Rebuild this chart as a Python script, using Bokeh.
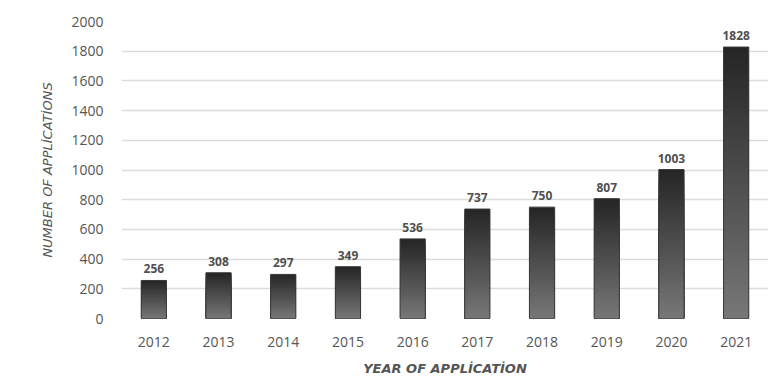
from bokeh.plotting import figure
from bokeh.models import ColumnDataSource, FactorRange, Range1d
from bokeh.core.properties import value
from bokeh.embed import file_html
from bokeh.resources import INLINE

years = ["2012", "2013", "2014", "2015", "2016", "2017", "2018", "2019", "2020", "2021"]
applications = [256, 308, 297, 349, 536, 737, 750, 807, 1003, 1828]
y_ticks = [0, 200, 400, 600, 800, 1000, 1200, 1400, 1600, 1800, 2000]

FONT = "Open Sans"

p = figure(width=772, height=380, x_range=FactorRange(*years), y_range=Range1d(0, 2000),
           output_backend="svg", toolbar_location=None,
           min_border_left=121, min_border_right=4, min_border_top=21, min_border_bottom=62)
p.outline_line_color = None
p.background_fill_color = "white"
p.border_fill_color = "white"

# gradient bars: overlapping layers from full height (darkest) to short (lightest)
N = 40
top_rgb = (38, 38, 38)
bot_rgb = (118, 118, 118)
xs, tops, cols = [], [], []
for i in range(N):
    f = i / (N - 1)
    r = [int(round(t + (b - t) * f)) for t, b in zip(top_rgb, bot_rgb)]
    c = "#%02x%02x%02x" % tuple(r)
    for yr, v in zip(years, applications):
        xs.append(yr)
        tops.append(v * (N - i) / N)
        cols.append(c)
seg = ColumnDataSource(dict(x=xs, top=tops, color=cols))
p.vbar(x="x", bottom=0, top="top", width=0.39, fill_color="color", line_color=None, source=seg)

src = ColumnDataSource(dict(x=years, y=applications, label=[str(v) for v in applications]))
p.vbar(x="x", top="y", width=0.39, fill_color=None, line_color="#3a3a3a", line_width=1, source=src)
p.text(x="x", y="y", text="label", source=src, text_align="center", text_baseline="bottom",
       y_offset=-7, text_font=value(FONT), text_font_size="12px", text_font_style="bold",
       text_color="#505050")

# axes
p.yaxis.ticker = y_ticks
p.yaxis.axis_line_color = None
p.yaxis.major_tick_line_color = None
p.yaxis.minor_tick_line_color = None
p.yaxis.major_label_standoff = 12
p.yaxis.major_label_text_font = FONT
p.yaxis.major_label_text_font_size = "14px"
p.yaxis.major_label_text_color = "#555555"
p.yaxis.axis_label = "NUMBER OF APPLİCATİONS"
p.yaxis.axis_label_text_font = "DejaVu Sans"
p.yaxis.axis_label_text_font_size = "13px"
p.yaxis.axis_label_text_font_style = "italic"
p.yaxis.axis_label_text_color = "#555555"
p.yaxis.axis_label_standoff = 13

p.xaxis.axis_line_color = None
p.xaxis.major_tick_line_color = None
p.xaxis.minor_tick_line_color = None
p.xaxis.major_label_standoff = 12
p.xaxis.major_label_text_font = FONT
p.xaxis.major_label_text_font_size = "14px"
p.xaxis.major_label_text_color = "#555555"
p.xaxis.axis_label = "YEAR OF APPLİCATİON"
p.xaxis.axis_label_text_font = "DejaVu Sans"
p.xaxis.axis_label_text_font_size = "13px"
p.xaxis.axis_label_text_font_style = "bold italic"
p.xaxis.axis_label_text_color = "#555555"
p.xaxis.axis_label_standoff = 11

p.xgrid.grid_line_color = None
p.ygrid.grid_line_color = "#dcdcdc"
p.ygrid.grid_line_width = 1.5

open("out.html", "w").write(file_html(p, INLINE))
